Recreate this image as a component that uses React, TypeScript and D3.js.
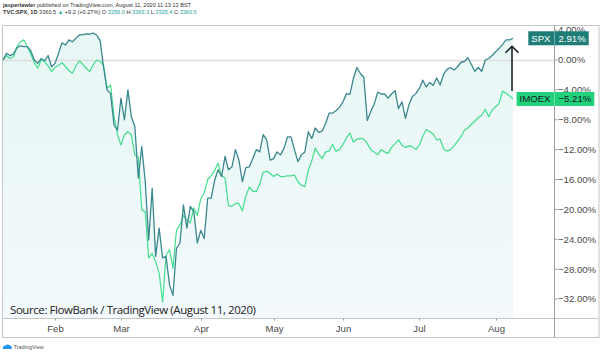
import { useEffect, useRef } from "react";
import * as d3 from "d3";

// bars are trading days counted from Jan 10, 2020 (the 0% base bar)
const monthLabels = ["Feb", "Mar", "Apr", "May", "Jun", "Jul", "Aug"];
const monthStartDays = [15, 34, 57, 78, 98, 120, 142];
const yTicks = [4, 0, -4, -8, -12, -16, -20, -24, -28, -32];

const spxPct = [
  0, 0.9, 0.6, 0.8, 1.6, 1.9, 1.8, 1.8, 1.25, 0, -0.45, 0.2, -0.1, 0.6, -0.9,
  -0.45, 0.9, 2.3, 2.0, 2.7, 2.45, 2.9, 3.35, 3.4, 3.5, 3.45, 3.6, 3.35, 2.6,
  -1.0, -4.0, -4.5, -8.7, -9.4, -5.1, -8.0, -4.0, -7.6, -8.9, -15.8, -11.6,
  -16.3, -24.1, -17.2, -26.3, -22.5, -26.5, -26.3, -30.1, -31.5, -25.2, -24.5,
  -19.4, -22.5, -19.6, -20.3, -24.5, -22.8, -23.9, -18.5, -18.5, -16.1, -14.7,
  -15.6, -12.9, -14.7, -14.3, -12.0, -13.4, -16.3, -14.4, -14.3, -13.2, -12.0,
  -12.3, -10.0, -10.7, -13.4, -13.2, -12.3, -12.7, -11.8, -10.3, -10.3, -12.0,
  -13.6, -12.7, -12.3, -9.6, -10.5, -9.1, -9.7, -9.5, -8.5, -7.1, -7.1, -6.8,
  -6.3, -5.6, -4.5, -4.6, -2.45, -1.0, -1.8, -2.3, -8.1, -6.9, -5.9, -4.3,
  -4.55, -4.55, -5.1, -4.55, -4.1, -6.5, -5.6, -7.8, -6.0, -4.9, -4.5, -3.8,
  -2.7, -3.6, -3.0, -3.4, -2.4, -3.35, -1.9, -1.25, -1.0, -1.35, -0.9, -0.3,
  -0.2, 0.3, -0.6, -1.5, -1.0, -1.5, 0, 0.2, 0.6, 1.1, 1.55, 2.1, 2.7, 2.7,
  2.91,
];

const imoexPct = [
  0, 0.6, 0.2, 0.4, 1.8, 2.4, 2.7, 1.8, 0.8, -0.3, -1.1, 0, -0.2, -0.8, -1.55,
  -1.0, -0.7, -0.35, -0.9, -1.4, -1.8, -0.8, -0.1, -0.6, -1.1, -1.55, -0.6, 0,
  -0.2, -0.67, -3.8, -3.35, -7.5, -10.0, -11.4, -10.0, -9.6, -10.0, -12.7,
  -13.0, -20.1, -20.3, -26.5, -25.9, -27.0, -28.5, -32.4, -26.1, -25.4, -27.9,
  -22.8, -22.1, -20.8, -21.4, -21.8, -19.8, -20.8, -18.6, -17.8, -16.0, -15.5,
  -14.8, -13.8, -15.5, -15.8, -19.5, -19.6, -19.2, -19.2, -20.2, -18.2, -17.0,
  -17.6, -17.6, -16.6, -15.0, -14.9, -15.2, -15.6, -15.3, -15.6, -15.6, -15.5,
  -15.5, -15.4, -16.3, -16.8, -16.95, -14.8, -13.5, -11.8, -12.6, -13.2, -12.3,
  -12.2, -11.3, -12.2, -12.0, -11.3, -10.4, -9.8, -11.0, -10.6, -10.5, -10.6,
  -11.2, -12.0, -12.3, -12.7, -12.0, -12.3, -12.5, -11.7, -11.2, -10.7, -11.4,
  -11.7, -11.5, -11.6, -12.0, -11.4, -10.2, -9.3, -9.6, -9.9, -10.7, -10.6,
  -11.9, -12.2, -12.0, -11.5, -10.9, -10.3, -9.4, -9.1, -8.6, -8.2, -7.7, -7.4,
  -6.6, -7.6, -6.7, -6.25, -5.8, -4.15, -4.45, -4.8, -5.21,
];

const fmt = (v: number) => (v < 0 ? "\u2212" : "") + Math.abs(v).toFixed(2) + "%";

export default function App() {
  const ref = useRef<SVGSVGElement>(null);

  useEffect(() => {
    const svg = d3.select(ref.current);
    svg.selectAll("*").remove();

    const left = 2.5,
      top = 25.5,
      axisX = 554.5,
      axisY = 318.5,
      right = 599,
      bottom = 337.5;
    const font = "'Liberation Sans', Arial, sans-serif";

    const x = d3.scaleLinear().domain([0, spxPct.length - 1]).range([3, 513]);
    const y = d3.scaleLinear().domain([-34.54, 4.42]).range([318, 27]);

    // header
    const h1 = svg
      .append("text")
      .attr("x", 3)
      .attr("y", 7)
      .style("font-family", font)
      .style("font-size", "5.6px")
      .attr("fill", "#333");
    h1.append("tspan").attr("font-weight", "bold").text("jasperlawler");
    h1.append("tspan").text(" published on TradingView.com, August 11, 2020 11:13:13 BST");

    const h2 = svg
      .append("text")
      .attr("x", 3)
      .attr("y", 14)
      .style("font-family", font)
      .style("font-size", "5.6px")
      .attr("fill", "#333");
    h2.append("tspan").attr("font-weight", "bold").text("TVC:SPX, 1D ");
    h2.append("tspan").text("3360.5 ");
    h2.append("tspan").attr("fill", "#26a69a").text("\u25B2");
    h2.append("tspan").text(" +9.2 (+0.27%) O:");
    h2.append("tspan").attr("fill", "#26a69a").text("3356.0");
    h2.append("tspan").text(" H:");
    h2.append("tspan").attr("fill", "#26a69a").text("3363.3");
    h2.append("tspan").text(" L:");
    h2.append("tspan").attr("fill", "#26a69a").text("3335.4");
    h2.append("tspan").text(" C:");
    h2.append("tspan").attr("fill", "#26a69a").text("3360.5");

    const defs = svg.append("defs");
    const grad = defs
      .append("linearGradient")
      .attr("id", "spxFill")
      .attr("x1", 0)
      .attr("x2", 0)
      .attr("y1", 0)
      .attr("y2", 1);
    grad.append("stop").attr("offset", "0%").attr("stop-color", "#e7f7f4");
    grad.append("stop").attr("offset", "100%").attr("stop-color", "#f3f9fc");
    defs
      .append("clipPath")
      .attr("id", "plotClip")
      .append("rect")
      .attr("x", left)
      .attr("y", top)
      .attr("width", axisX - left)
      .attr("height", axisY - top);

    const plot = svg.append("g").attr("clip-path", "url(#plotClip)");

    plot
      .append("path")
      .datum(spxPct)
      .attr("fill", "url(#spxFill)")
      .attr(
        "d",
        d3
          .area<number>()
          .x((_, i) => x(i))
          .y0(axisY)
          .y1((d) => y(d)),
      );

    plot
      .append("line")
      .attr("x1", left)
      .attr("x2", axisX)
      .attr("y1", Math.round(y(0)) + 0.5)
      .attr("y2", Math.round(y(0)) + 0.5)
      .attr("stroke", "#dedede")
      .attr("stroke-width", 1.5);

    const line = d3
      .line<number>()
      .x((_, i) => x(i))
      .y((d) => y(d));

    plot
      .append("path")
      .datum(imoexPct)
      .attr("fill", "none")
      .attr("stroke", "#42de8e")
      .attr("stroke-width", 1.2)
      .attr("stroke-linejoin", "round")
      .attr("d", line);

    plot
      .append("path")
      .datum(spxPct)
      .attr("fill", "none")
      .attr("stroke", "#3a878d")
      .attr("stroke-width", 1.3)
      .attr("stroke-linejoin", "round")
      .attr("d", line);

    // source note
    svg
      .append("text")
      .attr("x", 10)
      .attr("y", 314)
      .attr("textLength", 246)
      .style("font-family", "'Open Sans', 'Noto Sans', sans-serif")
      .style("font-size", "11.5px")
      .attr("fill", "#222")
      .text("Source: FlowBank / TradingView (August 11, 2020)");

    // frame and axes
    svg
      .append("rect")
      .attr("x", left)
      .attr("y", top)
      .attr("width", right - left)
      .attr("height", bottom - top)
      .attr("fill", "none")
      .attr("stroke", "#c6c6c6");
    svg
      .append("line")
      .attr("x1", left)
      .attr("x2", right)
      .attr("y1", axisY)
      .attr("y2", axisY)
      .attr("stroke", "#c6c6c6");
    svg
      .append("line")
      .attr("x1", axisX)
      .attr("x2", axisX)
      .attr("y1", top)
      .attr("y2", bottom)
      .attr("stroke", "#9e9e9e");

    // y axis
    const yAxis = svg.append("g");
    yTicks.forEach((t) => {
      const yy = y(t);
      yAxis
        .append("line")
        .attr("x1", axisX)
        .attr("x2", axisX + 3)
        .attr("y1", yy)
        .attr("y2", yy)
        .attr("stroke", "#9e9e9e");
      yAxis
        .append("text")
        .attr("x", axisX + 3.5)
        .attr("y", yy)
        .attr("dy", "0.35em")
        .style("font-family", font)
        .style("font-size", "9.6px")
        .attr("fill", "#4a4a4a")
        .text(fmt(t));
    });

    // x axis
    const xAxis = svg.append("g");
    monthStartDays.forEach((d, i) => {
      const xx = Math.round(x(d)) + 0.5;
      xAxis
        .append("line")
        .attr("x1", xx)
        .attr("x2", xx)
        .attr("y1", axisY)
        .attr("y2", axisY + 2)
        .attr("stroke", "#9e9e9e");
      xAxis
        .append("text")
        .attr("x", xx)
        .attr("y", 331.5)
        .attr("text-anchor", "middle")
        .style("font-family", font)
        .style("font-size", "9.6px")
        .attr("fill", "#4a4a4a")
        .text(monthLabels[i]);
    });

    // last-value labels on the price scale
    const last = spxPct.length - 1;
    const labels = [
      { name: "SPX", v: spxPct[last], bg: "#1f7d78", fg: "#ffffff" },
      { name: "IMOEX", v: imoexPct[last], bg: "#22d17b", fg: "#131722" },
    ];
    labels.forEach((l) => {
      const cy = y(l.v);
      const g = svg.append("g");
      const rect = g.append("rect");
      const nameT = g
        .append("text")
        .attr("x", axisX - 4)
        .attr("y", cy)
        .attr("dy", "0.35em")
        .attr("text-anchor", "end")
        .style("font-family", font)
        .style("font-size", "9.6px")
        .attr("fill", l.fg)
        .text(l.name);
      const valT = g
        .append("text")
        .attr("x", axisX + 4)
        .attr("y", cy)
        .attr("dy", "0.35em")
        .style("font-family", font)
        .style("font-size", "9.6px")
        .attr("fill", l.fg)
        .text(fmt(l.v));
      const w1 = (nameT.node() as SVGTextElement).getComputedTextLength();
      const w2 = (valT.node() as SVGTextElement).getComputedTextLength();
      rect
        .attr("x", axisX - 4 - w1 - 3)
        .attr("y", cy - 7)
        .attr("width", w1 + w2 + 14)
        .attr("height", 14)
        .attr("fill", l.bg);
      g.append("line")
        .attr("x1", axisX)
        .attr("x2", axisX)
        .attr("y1", cy - 7)
        .attr("y2", cy + 7)
        .attr("stroke", "#ffffff")
        .attr("stroke-opacity", 0.35);
    });

    // arrow from IMOEX up to SPX
    const ax = x(last) - 1;
    const yTop = y(spxPct[last]) + 8;
    const yBot = y(imoexPct[last]) - 8;
    svg
      .append("path")
      .attr("d", `M${ax},${yBot}V${yTop}M${ax - 6.5},${yTop + 6.5}L${ax},${yTop}L${ax + 6.5},${yTop + 6.5}`)
      .attr("fill", "none")
      .attr("stroke", "#131722")
      .attr("stroke-width", 1.5);

    // watermark
    svg
      .append("path")
      .attr("d", "M3,349 a2.5,2.5 0 0 1 2.5,-3.5 a3,3 0 0 1 5,0.5 a2,2 0 0 1 1,3 z")
      .attr("fill", "#2196f3");
    svg
      .append("text")
      .attr("x", 13.5)
      .attr("y", 349)
      .style("font-family", font)
      .style("font-size", "5.5px")
      .attr("fill", "#555")
      .text("TradingView");
  }, []);

  return (
    <svg
      ref={ref}
      width={602}
      height={352}
      style={{ position: "absolute", left: 0, top: 0, background: "#fff" }}
    />
  );
}
